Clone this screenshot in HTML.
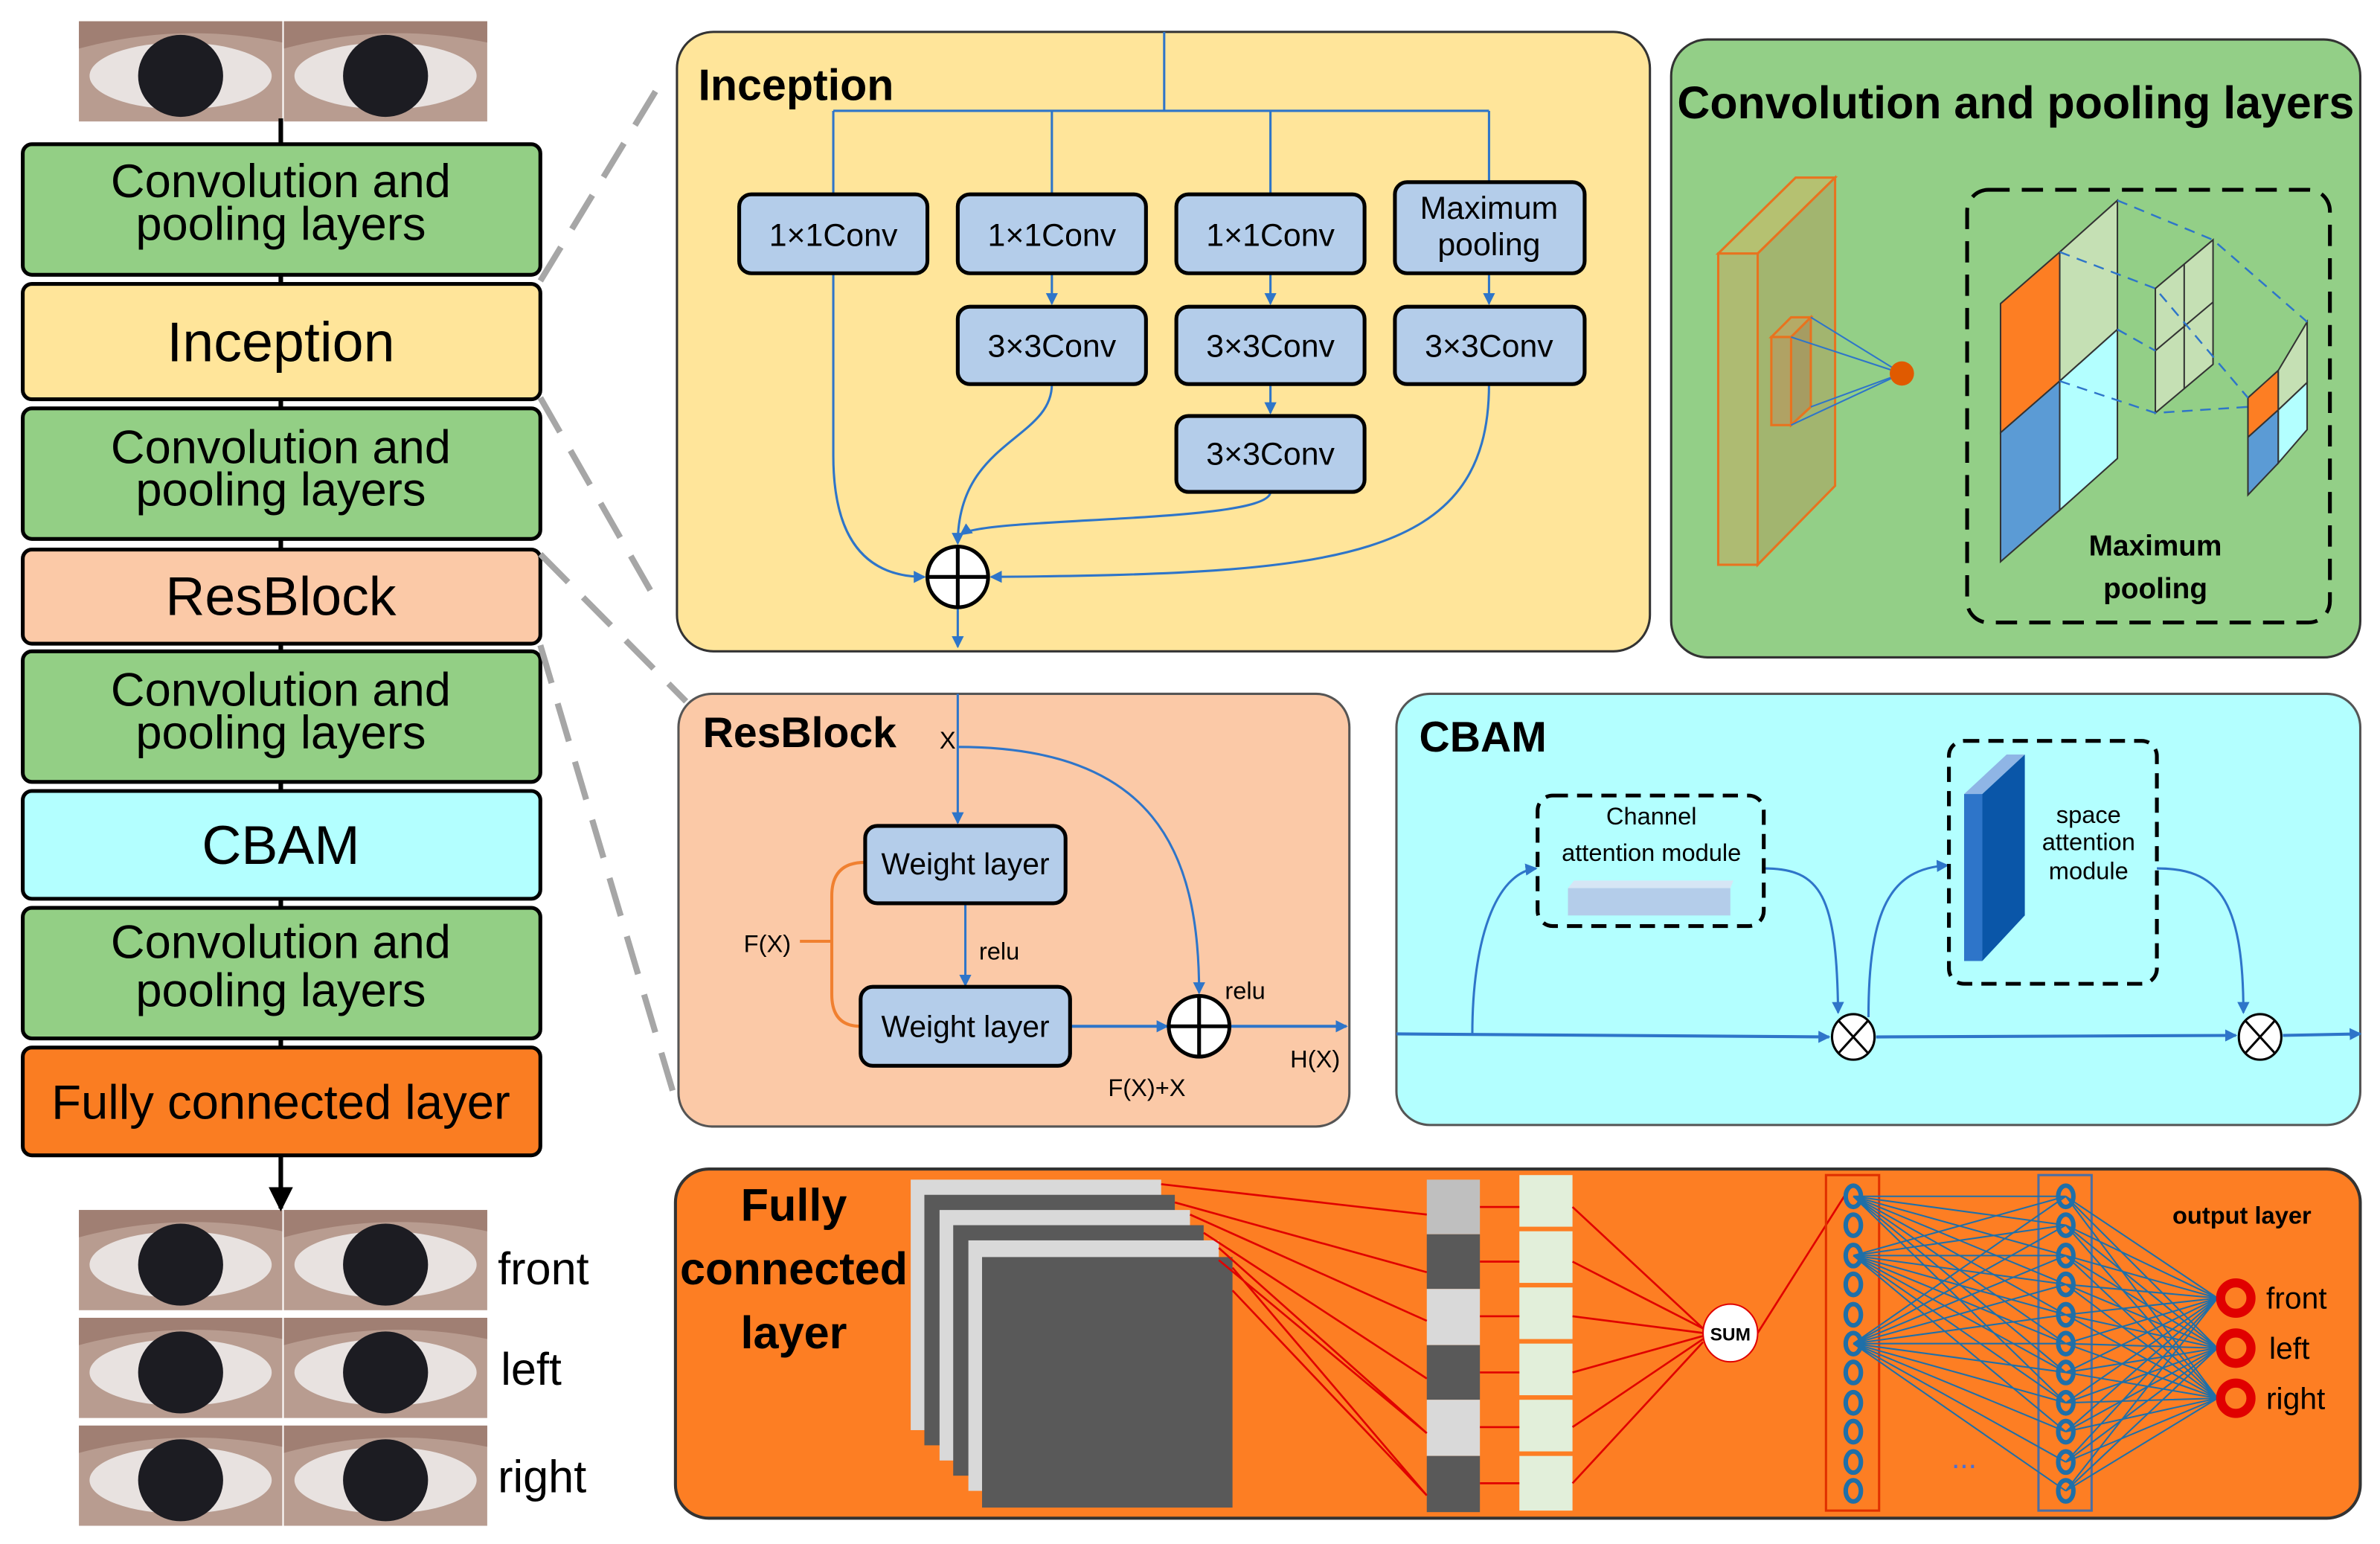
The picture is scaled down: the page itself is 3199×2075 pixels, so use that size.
<!DOCTYPE html>
<html><head><meta charset="utf-8"><style>
html,body{margin:0;padding:0;background:#fff;}
svg{display:block;}
text{font-family:"Liberation Sans",sans-serif;}
</style></head><body>
<svg width="3199" height="2075" viewBox="0 0 1568 1017" preserveAspectRatio="none" xmlns="http://www.w3.org/2000/svg">
<defs>
<marker id="ab" markerWidth="8" markerHeight="8" refX="7" refY="4" orient="auto" markerUnits="userSpaceOnUse"><path d="M0,0 L8,4 L0,8 z" fill="#2e75c9"/></marker>
<marker id="ak" markerWidth="16" markerHeight="16" refX="14" refY="8" orient="auto" markerUnits="userSpaceOnUse"><path d="M0,0 L16,8 L0,16 z" fill="#000"/></marker>
<g id="eye">
<rect x="0" y="0" width="134" height="66" fill="#b89c90"/>
<ellipse cx="67" cy="36" rx="60" ry="22" fill="#e8e2e0"/>
<ellipse cx="67" cy="36" rx="28" ry="27" fill="#1c1c22"/>
<path d="M0 0 H134 V14 Q67 0 0 18 Z" fill="#a07f73"/>
</g>
</defs>

<use href="#eye" x="52" y="14"/><use href="#eye" x="187" y="14"/>
<use href="#eye" x="52" y="797"/><use href="#eye" x="187" y="797"/>
<use href="#eye" x="52" y="868"/><use href="#eye" x="187" y="868"/>
<use href="#eye" x="52" y="939"/><use href="#eye" x="187" y="939"/>
<text x="328" y="846" font-size="30">front</text>
<text x="330" y="912" font-size="30">left</text>
<text x="328" y="983" font-size="30">right</text>

<line x1="185" y1="78" x2="185" y2="761" stroke="#000" stroke-width="3"/>
<line x1="185" y1="761" x2="185" y2="796" stroke="#000" stroke-width="3" marker-end="url(#ak)"/>
<g stroke="#000" stroke-width="2.5">
<rect x="15" y="95" width="341" height="86" rx="6" fill="#93cf85"/>
<rect x="15" y="187" width="341" height="76" rx="6" fill="#ffe59a"/>
<rect x="15" y="269" width="341" height="86" rx="6" fill="#93cf85"/>
<rect x="15" y="362" width="341" height="62" rx="6" fill="#fbc9a7"/>
<rect x="15" y="429" width="341" height="86" rx="6" fill="#93cf85"/>
<rect x="15" y="521" width="341" height="71" rx="6" fill="#b3ffff"/>
<rect x="15" y="598" width="341" height="86" rx="6" fill="#93cf85"/>
<rect x="15" y="690" width="341" height="71" rx="6" fill="#fa7d22"/>
</g>
<g font-size="31" text-anchor="middle">
<text x="185" y="130">Convolution and</text><text x="185" y="158">pooling layers</text>
<text x="185" y="238" font-size="37">Inception</text>
<text x="185" y="305">Convolution and</text><text x="185" y="333">pooling layers</text>
<text x="185" y="405" font-size="36">ResBlock</text>
<text x="185" y="465">Convolution and</text><text x="185" y="493">pooling layers</text>
<text x="185" y="569" font-size="36">CBAM</text>
<text x="185" y="631">Convolution and</text><text x="185" y="663">pooling layers</text>
<text x="185" y="737" font-size="32">Fully connected layer</text>
</g>

<g stroke="#a6a6a6" stroke-width="4" stroke-dasharray="26,14" fill="none">
<line x1="356" y1="185" x2="432" y2="60"/>
<line x1="356" y1="262" x2="432" y2="395"/>
<line x1="356" y1="365" x2="452" y2="462"/>
<line x1="356" y1="425" x2="446" y2="728"/>
</g>

<rect x="446" y="21" width="641" height="408" rx="24" fill="#ffe59a" stroke="#333" stroke-width="1.5"/>
<text x="460" y="66" font-size="29" font-weight="bold">Inception</text>
<g stroke="#2e75c9" stroke-width="1.5" fill="none">
<path d="M767 21 V73 M549 73 H981 M549 73 V128 M693 73 V128 M837 73 V128 M981 73 V120"/>
<path d="M693 180 V200" marker-end="url(#ab)"/>
<path d="M837 180 V200" marker-end="url(#ab)"/>
<path d="M981 180 V200" marker-end="url(#ab)"/>
<path d="M837 253 V272" marker-end="url(#ab)"/>
<path d="M549 180 V300 Q549 380 609 380" marker-end="url(#ab)"/>
<path d="M693 253 C693 290 631 290 631 358" marker-end="url(#ab)"/>
<path d="M837 324 C837 345 650 340 633 352" marker-end="url(#ab)"/>
<path d="M981 253 C981 370 880 378 653 380" marker-end="url(#ab)"/>
<path d="M631 400 V426" marker-end="url(#ab)"/>
</g>
<g stroke="#000" stroke-width="2.5" fill="#b4cdea">
<rect x="487" y="128" width="124" height="52" rx="8"/>
<rect x="631" y="128" width="124" height="52" rx="8"/>
<rect x="775" y="128" width="124" height="52" rx="8"/>
<rect x="919" y="120" width="125" height="60" rx="8"/>
<rect x="631" y="202" width="124" height="51" rx="8"/>
<rect x="775" y="202" width="124" height="51" rx="8"/>
<rect x="919" y="202" width="125" height="51" rx="8"/>
<rect x="775" y="274" width="124" height="50" rx="8"/>
</g>
<g font-size="21" text-anchor="middle">
<text x="549" y="162">1×1Conv</text><text x="693" y="162">1×1Conv</text><text x="837" y="162">1×1Conv</text>
<text x="981" y="144">Maximum</text><text x="981" y="168">pooling</text>
<text x="693" y="235">3×3Conv</text><text x="837" y="235">3×3Conv</text><text x="981" y="235">3×3Conv</text>
<text x="837" y="306">3×3Conv</text>
</g>
<circle cx="631" cy="380" r="20" fill="#fff" stroke="#000" stroke-width="2.5"/>
<path d="M611 380 H651 M631 360 V400" stroke="#000" stroke-width="2.5"/>

<rect x="1101" y="26" width="454" height="407" rx="24" fill="#93cf87" stroke="#333" stroke-width="1.5"/>
<text x="1328" y="78" font-size="30" font-weight="bold" text-anchor="middle" textLength="446" lengthAdjust="spacingAndGlyphs">Convolution and pooling layers</text>
<g stroke="#e8731f" stroke-width="1.5">
<polygon points="1132,167 1183,117 1209,117 1158,167" fill="#b5c171"/>
<polygon points="1158,167 1209,117 1209,320 1158,372" fill="#a2b56f"/>
<rect x="1132" y="167" width="26" height="205" fill="#aebb72"/>
<polygon points="1167,222 1180,209 1193,209 1180,222" fill="#b5aa66"/>
<polygon points="1180,222 1193,209 1193,268 1180,280" fill="#a69c62"/>
<rect x="1167" y="222" width="13" height="58" fill="#b0a264"/>
</g>
<g stroke="#2e75c9" stroke-width="1">
<line x1="1180" y1="222" x2="1253" y2="246"/><line x1="1193" y1="209" x2="1253" y2="246"/>
<line x1="1180" y1="280" x2="1253" y2="246"/><line x1="1193" y1="268" x2="1253" y2="246"/>
</g>
<circle cx="1253" cy="246" r="8" fill="#e05a00"/>
<rect x="1296" y="125" width="239" height="285" rx="14" fill="none" stroke="#000" stroke-width="2.5" stroke-dasharray="14,8"/>
<g stroke="#333" stroke-width="1">
<polygon points="1318,200 1357,166 1357,251 1318,285" fill="#fd7e23"/>
<polygon points="1357,166 1395,132 1395,217 1357,251" fill="#c5e0b4"/>
<polygon points="1318,285 1357,251 1357,336 1318,370" fill="#5b9bd5"/>
<polygon points="1357,251 1395,217 1395,302 1357,336" fill="#b3ffff"/>
<polygon points="1420,190 1458,158 1458,240 1420,272" fill="#c5e0b4"/>
<path d="M1439 174 V256 M1420 231 L1458 199" fill="none"/>
<polygon points="1481,262 1501,244 1501,270 1481,288" fill="#fd7e23"/>
<polygon points="1501,244 1520,212 1520,252 1501,270" fill="#c5e0b4"/>
<polygon points="1481,288 1501,270 1501,305 1481,326" fill="#5b9bd5"/>
<polygon points="1501,270 1520,252 1520,283 1501,305" fill="#b3ffff"/>
</g>
<g stroke="#2e75c9" stroke-width="1.2" stroke-dasharray="7,5" fill="none">
<path d="M1395 132 L1458 158 L1520 212 M1357 166 L1420 190 L1481 262 M1395 217 L1420 231 M1357 251 L1420 272 L1481 268"/>
</g>
<text x="1420" y="366" font-size="19" font-weight="bold" text-anchor="middle">Maximum</text>
<text x="1420" y="394" font-size="19" font-weight="bold" text-anchor="middle">pooling</text>

<rect x="447" y="457" width="442" height="285" rx="22" fill="#fbc9a7" stroke="#555" stroke-width="1.5"/>
<text x="463" y="492" font-size="28" font-weight="bold">ResBlock</text>
<text x="619" y="493" font-size="16">X</text>
<g stroke="#2e75c9" stroke-width="1.5" fill="none">
<path d="M631 457 V542" marker-end="url(#ab)"/>
<path d="M631 492 C760 492 790 560 790 654" marker-end="url(#ab)"/>
<path d="M636 595 V649" marker-end="url(#ab)"/>
<path d="M705 676 H769" stroke-width="2" marker-end="url(#ab)"/>
<path d="M810 676 H887" stroke-width="2" marker-end="url(#ab)"/>
</g>
<path d="M570 568 Q548 568 548 590 L548 655 Q548 676 567 676 M527 620 H548" stroke="#f08030" stroke-width="2" fill="none"/>
<g stroke="#000" stroke-width="2.5" fill="#b4cdea">
<rect x="570" y="544" width="132" height="51" rx="8"/>
<rect x="567" y="650" width="138" height="52" rx="8"/>
</g>
<text x="636" y="576" font-size="20" text-anchor="middle">Weight layer</text>
<text x="636" y="683" font-size="20" text-anchor="middle">Weight layer</text>
<text x="645" y="632" font-size="16">relu</text>
<text x="807" y="658" font-size="16">relu</text>
<text x="490" y="627" font-size="16">F(X)</text>
<text x="850" y="703" font-size="16">H(X)</text>
<text x="730" y="722" font-size="16">F(X)+X</text>
<circle cx="790" cy="676" r="20" fill="#fff" stroke="#000" stroke-width="2.5"/>
<path d="M770 676 H810 M790 656 V696" stroke="#000" stroke-width="2.5"/>

<rect x="920" y="457" width="635" height="284" rx="22" fill="#b3ffff" stroke="#555" stroke-width="1.5"/>
<text x="935" y="495" font-size="28" font-weight="bold">CBAM</text>
<g stroke="#2e75c9" stroke-width="1.5" fill="none">
<path d="M920 681 L1205 683" stroke-width="2" marker-end="url(#ab)"/>
<path d="M1236 683 L1473 682" stroke-width="2" marker-end="url(#ab)"/>
<path d="M1504 682 L1555 681" stroke-width="2" marker-end="url(#ab)"/>
<path d="M970 681 C970 620 985 575 1012 572" marker-end="url(#ab)"/>
<path d="M1162 572 C1200 572 1210 590 1211 667" marker-end="url(#ab)"/>
<path d="M1231 670 C1231 600 1245 572 1283 570" marker-end="url(#ab)"/>
<path d="M1421 572 C1460 572 1478 590 1478 667" marker-end="url(#ab)"/>
</g>
<rect x="1013" y="524" width="149" height="86" rx="10" fill="none" stroke="#000" stroke-width="2.5" stroke-dasharray="10,6"/>
<polygon points="1033,585 1037,580 1142,580 1140,585" fill="#d6e6f5"/>
<rect x="1033" y="585" width="107" height="18" fill="#b4cdea"/>
<text x="1088" y="543" font-size="16" text-anchor="middle">Channel</text>
<text x="1088" y="567" font-size="16" text-anchor="middle">attention module</text>
<rect x="1284" y="488" width="137" height="160" rx="10" fill="none" stroke="#000" stroke-width="2.5" stroke-dasharray="10,6"/>
<polygon points="1294,523 1306,523 1334,497 1322,497" fill="#8fb5e5"/>
<rect x="1294" y="523" width="12" height="110" fill="#2e75c9"/>
<polygon points="1306,523 1334,497 1334,603 1306,633" fill="#0a56a8"/>
<text x="1376" y="542" font-size="16" text-anchor="middle">space</text>
<text x="1376" y="560" font-size="16" text-anchor="middle">attention</text>
<text x="1376" y="579" font-size="16" text-anchor="middle">module</text>
<g stroke="#000" stroke-width="1.5" fill="#fff">
<ellipse cx="1221" cy="683" rx="14" ry="15"/><path d="M1211 672 L1231 694 M1231 672 L1211 694"/>
<ellipse cx="1489" cy="683" rx="14" ry="15"/><path d="M1479 672 L1499 694 M1499 672 L1479 694"/>
</g>

<rect x="445" y="770" width="1110" height="230" rx="22" fill="#fd7e23" stroke="#333" stroke-width="2"/>
<g font-size="30" font-weight="bold" text-anchor="middle">
<text x="523" y="804">Fully</text><text x="523" y="846">connected</text><text x="523" y="888">layer</text>
</g>
<rect x="600" y="777" width="165" height="165" fill="#d9d9d9"/>
<rect x="609" y="787" width="165" height="165" fill="#595959"/>
<rect x="619" y="797" width="165" height="165" fill="#d9d9d9"/>
<rect x="628" y="807" width="165" height="165" fill="#595959"/>
<rect x="638" y="817" width="165" height="165" fill="#d9d9d9"/>
<rect x="647" y="828" width="165" height="165" fill="#595959"/>
<rect x="940" y="777" width="35" height="36" fill="#bfbfbf"/>
<rect x="940" y="813" width="35" height="36" fill="#595959"/>
<rect x="940" y="849" width="35" height="37" fill="#d9d9d9"/>
<rect x="940" y="886" width="35" height="36" fill="#595959"/>
<rect x="940" y="922" width="35" height="37" fill="#d9d9d9"/>
<rect x="940" y="959" width="35" height="37" fill="#595959"/>
<g fill="#e2efda">
<rect x="1001" y="774" width="35" height="34"/><rect x="1001" y="811" width="35" height="34"/>
<rect x="1001" y="848" width="35" height="34"/><rect x="1001" y="885" width="35" height="34"/>
<rect x="1001" y="922" width="35" height="34"/><rect x="1001" y="959" width="35" height="36"/>
</g>
<g stroke="#e00000" stroke-width="1.3" fill="none">
<path d="M765 780 L940 800 M774 792 L940 838 M784 800 L940 870 M793 812 L940 908 M803 822 L940 944 M812 835 L940 985 M812 850 L940 985 M803 830 L940 944"/>
<path d="M975 795 H1001 M975 831 H1001 M975 867 H1001 M975 904 H1001 M975 940 H1001 M975 977 H1001"/>
<path d="M1036 795 L1122 875 M1036 831 L1122 875 M1036 867 L1122 878 M1036 904 L1122 880 M1036 940 L1122 882 M1036 977 L1122 884 M1158 878 L1215 788"/>
</g>
<ellipse cx="1140" cy="878" rx="18" ry="19" fill="#fff" stroke="#e00000" stroke-width="1"/>
<text x="1140" y="883" font-size="12" font-weight="bold" text-anchor="middle">SUM</text>
<rect x="1203" y="774" width="35" height="221" fill="none" stroke="#e03000" stroke-width="1.5"/>
<rect x="1343" y="774" width="35" height="221" fill="none" stroke="#4a6fa5" stroke-width="1.5"/>
<g stroke="#1f6fa8" stroke-width="1" fill="none">
<path d="M1221 788 L1361 788 M1221 788 L1361 807 M1221 788 L1361 827 M1221 788 L1361 846 M1221 788 L1361 866 M1221 788 L1361 885 M1221 788 L1361 904 M1221 788 L1361 924"/>
<path d="M1221 827 L1361 788 M1221 827 L1361 807 M1221 827 L1361 827 M1221 827 L1361 846 M1221 827 L1361 866 M1221 827 L1361 885 M1221 827 L1361 904 M1221 827 L1361 924 M1221 827 L1361 943"/>
<path d="M1221 885 L1361 788 M1221 885 L1361 807 M1221 885 L1361 827 M1221 885 L1361 846 M1221 885 L1361 866 M1221 885 L1361 885 M1221 885 L1361 904 M1221 885 L1361 924 M1221 885 L1361 943 M1221 885 L1361 963 M1221 885 L1361 982"/>
<path d="M1361 788 L1461 855 M1361 788 L1461 888 M1361 788 L1461 921 M1361 807 L1461 855 M1361 807 L1461 888 M1361 807 L1461 921 M1361 827 L1461 855 M1361 827 L1461 888 M1361 827 L1461 921 M1361 846 L1461 855 M1361 846 L1461 888 M1361 846 L1461 921 M1361 866 L1461 855 M1361 866 L1461 888 M1361 866 L1461 921 M1361 885 L1461 855 M1361 885 L1461 888 M1361 885 L1461 921 M1361 904 L1461 855 M1361 904 L1461 888 M1361 904 L1461 921 M1361 924 L1461 855 M1361 924 L1461 888 M1361 924 L1461 921 M1361 943 L1461 855 M1361 943 L1461 888 M1361 943 L1461 921 M1361 963 L1461 855 M1361 963 L1461 888 M1361 963 L1461 921 M1361 982 L1461 855 M1361 982 L1461 888 M1361 982 L1461 921"/>
</g>
<g fill="none" stroke="#1f6fa8" stroke-width="3">
<ellipse cx="1221" cy="788" rx="5" ry="7"/><ellipse cx="1221" cy="807" rx="5" ry="7"/><ellipse cx="1221" cy="827" rx="5" ry="7"/><ellipse cx="1221" cy="846" rx="5" ry="7"/><ellipse cx="1221" cy="866" rx="5" ry="7"/><ellipse cx="1221" cy="885" rx="5" ry="7"/><ellipse cx="1221" cy="904" rx="5" ry="7"/><ellipse cx="1221" cy="924" rx="5" ry="7"/><ellipse cx="1221" cy="943" rx="5" ry="7"/><ellipse cx="1221" cy="963" rx="5" ry="7"/><ellipse cx="1221" cy="982" rx="5" ry="7"/>
<ellipse cx="1361" cy="788" rx="5" ry="7"/><ellipse cx="1361" cy="807" rx="5" ry="7"/><ellipse cx="1361" cy="827" rx="5" ry="7"/><ellipse cx="1361" cy="846" rx="5" ry="7"/><ellipse cx="1361" cy="866" rx="5" ry="7"/><ellipse cx="1361" cy="885" rx="5" ry="7"/><ellipse cx="1361" cy="904" rx="5" ry="7"/><ellipse cx="1361" cy="924" rx="5" ry="7"/><ellipse cx="1361" cy="943" rx="5" ry="7"/><ellipse cx="1361" cy="963" rx="5" ry="7"/><ellipse cx="1361" cy="982" rx="5" ry="7"/>
</g>
<g fill="none" stroke="#e00000" stroke-width="6">
<circle cx="1473" cy="855" r="10"/><circle cx="1473" cy="888" r="10"/><circle cx="1473" cy="921" r="10"/>
</g>
<text x="1294" y="967" font-size="20" fill="#4a6fd5" text-anchor="middle">...</text>
<text x="1477" y="806" font-size="16" font-weight="bold" text-anchor="middle">output layer</text>
<text x="1493" y="862" font-size="20">front</text>
<text x="1495" y="895" font-size="20">left</text>
<text x="1493" y="928" font-size="20">right</text>
</svg>
</body></html>
